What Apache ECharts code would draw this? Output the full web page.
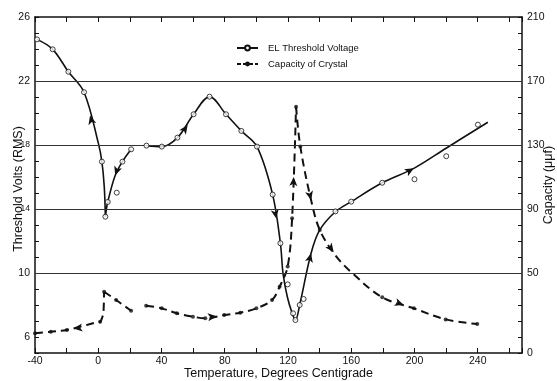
<!DOCTYPE html>
<html><head><meta charset="utf-8">
<script src="https://cdn.jsdelivr.net/npm/echarts/dist/echarts.min.js"></script>
<style>html,body{margin:0;padding:0;background:#fff}#c{width:557px;height:381px}</style>
</head><body><div id="c"></div>
<script>
// ---- data ----
const xTickLabels = [-40, 0, 40, 80, 120, 160, 200, 240];
const leftTickLabels = [6, 10, 14, 18, 22, 26];
const rightTickLabels = [0, 50, 90, 130, 170, 210];
const gridValues = [10, 14, 18, 22];

// EL threshold voltage (volts RMS) - drawn curve (null = break)
const elCurve = [
  [-38.7, 24.6], [-28.8, 23.98], [-18.9, 22.58], [-9.0, 21.3], [0.1, 18.1], [2.3, 16.96], [3.8, 15.4], [4.5, 13.52],
  null,
  [4.5, 13.52], [6.0, 14.44], [10.7, 16.1], [15.3, 16.96], [20.8, 17.73],
  null,
  [30.5, 17.96], [40.2, 17.9], [50.1, 18.46], [60.3, 19.92], [70.4, 21.02], [80.8, 19.92], [90.5, 18.88],
  [100.4, 17.9], [110.3, 14.9], [115.2, 11.86], [116.9, 9.94], [119.6, 8.5], [122.6, 7.5], [124.7, 7.06],
  [127.4, 8.0], [134.6, 11.23], [140.1, 12.69], [150, 13.83], [160, 14.46], [179.6, 15.64], [199.6, 16.54],
  [220, 17.8], [246.4, 19.42]
];
// EL measured points (open circles)
const elPoints = [
  [-38.7, 24.6], [-28.8, 23.98], [-18.9, 22.58], [-9.0, 21.3], [2.3, 16.96], [4.5, 13.52], [6.0, 14.44],
  [11.7, 15.02], [15.3, 16.96], [20.8, 17.73], [30.5, 17.96], [40.2, 17.9], [50.1, 18.46], [60.3, 19.92],
  [70.4, 21.02], [80.8, 19.92], [90.5, 18.88], [100.4, 17.9], [110.3, 14.9], [115.2, 11.86], [119.8, 9.29],
  [123.2, 7.48], [124.7, 7.06], [127.4, 8.0], [129.9, 8.375], [150, 13.85], [160, 14.46], [179.6, 15.64],
  [200, 15.86], [220.1, 17.3], [240.1, 19.27]
];
// Capacity of crystal (micro-micro-farads) - drawn curve (null = break)
const capCurve = [
  [-40, 12.3], [-30, 13.3], [-19.9, 14.4], [-11.5, 16.4], [-2, 18.9], [1.2, 19.6], [2.6, 22.5], [3.3, 25.5], [3.7, 38.3],
  null,
  [3.7, 38.3], [11.3, 33.1], [20.8, 26.4],
  null,
  [30.3, 29.6], [40.2, 27.9], [49.7, 24.8], [59.9, 22.7], [67.7, 21.7], [79.7, 23.75], [89.8, 25.2], [100, 27.9],
  [109.9, 33.1], [114.7, 41.4], [119.8, 54], [122.6, 84.2], [125.1, 153.9],
  null,
  [125.1, 153.9], [127.8, 129], [134.6, 95.6], [140.1, 76.9], [150, 61], [160.6, 50], [179.6, 34.8],
  [199.6, 27.9], [219.7, 21], [239.7, 18.1]
];
// Capacity measured points (filled dots)
const capDots = [
  [-40, 12.3], [-30, 13.3], [-19.9, 14.4], [1.2, 19.6], [3.7, 38.3], [11.3, 33.1], [20.8, 26.4],
  [30.3, 29.6], [40.2, 27.9], [49.7, 24.8], [59.9, 22.7], [67.7, 21.7], [79.7, 23.75], [89.8, 25.2],
  [100, 27.9], [109.9, 33.1], [114.7, 41.4], [119.8, 54], [122.6, 84.2], [125.1, 153.9], [127.8, 129],
  [140.1, 76.9], [179.6, 34.8], [199.6, 27.9], [219.7, 21], [239.7, 18.1]
];
// direction arrows: [x, y, heading in degrees counter-clockwise from up]
const elArrows = [[-5.2, 19.85, 15], [10.7, 16.1, 161], [56.5, 19.25, -34], [112.6, 13.4, 190], [134.6, 11.23, -14], [199.6, 16.54, -61]];
const capArrows = [[-15.7, 15.3, 97], [75, 23.0, -83], [123.6, 110, -2], [134.6, 95.6, 193], [148.9, 63, 216], [193.2, 30, 250]];

// ---- chart ----
const BRK = ['-', '-'];
const fix = arr => arr.map(p => p === null ? BRK : p);
const FONT = 'Liberation Sans';
const chart = echarts.init(document.getElementById('c'), null, {renderer: 'canvas'});
const axisLineStyle = {color: '#111', width: 1.5};
const tickStyle = {color: '#111', width: 1};
chart.setOption({
  animation: false,
  backgroundColor: '#fff',
  textStyle: {fontFamily: FONT, color: '#111'},
  grid: {left: 35, right: 35, top: 17, bottom: 28, containLabel: false, outerBoundsMode: 'none'},
  legend: {
    data: [
      {name: 'EL Threshold Voltage'},
      {name: 'Capacity of Crystal', lineStyle: {type: [4, 2]}}
    ],
    orient: 'vertical', left: 231, top: 38, itemWidth: 21, itemHeight: 6, itemGap: 6,
    textStyle: {fontFamily: FONT, fontSize: 9.5, color: '#111', padding: [0, 0, 0, 5]},
    selectedMode: false
  },
  xAxis: [
    {
      type: 'value', min: -40, max: 268, interval: 20, position: 'bottom',
      name: 'Temperature, Degrees Centigrade', nameLocation: 'middle', nameGap: 14, nameMoveOverlap: false,
      nameTextStyle: {fontFamily: FONT, fontSize: 12.5, color: '#111'},
      axisLine: {show: true, onZero: false, lineStyle: axisLineStyle},
      axisTick: {show: true, inside: true, length: 5, lineStyle: tickStyle},
      axisLabel: {margin: 3, fontSize: 10.5, color: '#111', fontFamily: FONT,
        formatter: v => xTickLabels.includes(v) ? String(v) : ''},
      splitLine: {show: false}
    },
    {
      type: 'value', min: -40, max: 268, interval: 20, position: 'top',
      axisLine: {show: true, onZero: false, lineStyle: axisLineStyle},
      axisTick: {show: true, inside: true, length: 5, lineStyle: tickStyle},
      axisLabel: {show: false}, splitLine: {show: false}
    }
  ],
  yAxis: [
    {
      type: 'value', min: 5, max: 26, interval: 1, position: 'left',
      name: 'Threshold Volts (RMS)', nameLocation: 'middle', nameGap: 10, nameRotate: 90, nameMoveOverlap: false,
      nameTextStyle: {fontFamily: FONT, fontSize: 12.5, color: '#111', padding: [0, 8, 0, 0]},
      axisLine: {show: true, onZero: false, lineStyle: axisLineStyle},
      axisTick: {show: true, inside: true, length: 4, lineStyle: tickStyle},
      axisLabel: {margin: 5, fontSize: 10.5, color: '#111', fontFamily: FONT,
        rich: {s: {fontSize: 8.5, fontFamily: FONT, color: '#111'}},
        formatter: v => !leftTickLabels.includes(v) ? '' : ((v === 14 || v === 18) ? '{s|' + v + '}' : String(v))},
      splitLine: {show: false}
    },
    {
      type: 'value', min: 0, max: 210, interval: 10, position: 'right',
      name: 'Capacity (μμf)', nameLocation: 'middle', nameGap: 20, nameRotate: 90, nameMoveOverlap: false,
      nameTextStyle: {fontFamily: FONT, fontSize: 12.5, color: '#111'},
      axisLine: {show: true, onZero: false, lineStyle: axisLineStyle},
      axisTick: {show: true, inside: true, length: 4, lineStyle: tickStyle},
      axisLabel: {margin: 5, fontSize: 10.5, color: '#111', fontFamily: FONT,
        formatter: v => rightTickLabels.includes(v) ? String(v) : ''},
      splitLine: {show: false}
    }
  ],
  series: [
    {
      name: 'EL Threshold Voltage', type: 'line', xAxisIndex: 0, yAxisIndex: 0,
      data: fix(elCurve), smooth: 0.35, connectNulls: false,
      symbol: 'emptyCircle', symbolSize: 5, showSymbol: false,
      lineStyle: {color: '#111', width: 1.6},
      itemStyle: {color: '#111', borderColor: '#111', borderWidth: 1},
      markLine: {
        silent: true, symbol: ['none', 'none'], label: {show: false},
        lineStyle: {color: '#333', width: 1, type: 'solid'},
        data: gridValues.map(v => ({yAxis: v}))
      },
      markPoint: {
        silent: true, symbol: 'arrow', symbolSize: [6, 9], label: {show: false},
        itemStyle: {color: '#111'},
        data: elArrows.map(a => ({coord: [a[0], a[1]], symbolRotate: a[2]}))
      },
      z: 3
    },
    {
      name: 'elPts', type: 'scatter', xAxisIndex: 0, yAxisIndex: 0,
      data: elPoints, symbol: 'circle', symbolSize: 5,
      itemStyle: {color: '#fff', borderColor: '#111', borderWidth: 1}, z: 5
    },
    {
      name: 'Capacity of Crystal', type: 'line', xAxisIndex: 0, yAxisIndex: 1,
      data: fix(capCurve), smooth: 0.35, connectNulls: false,
      symbol: 'circle', symbolSize: 4, showSymbol: false,
      lineStyle: {color: '#111', width: 2, type: [8, 5]},
      itemStyle: {color: '#111'},
      markPoint: {
        silent: true, symbol: 'arrow', symbolSize: [6, 9], label: {show: false},
        itemStyle: {color: '#111'},
        data: capArrows.map(a => ({coord: [a[0], a[1]], symbolRotate: a[2]}))
      },
      z: 3
    },
    {
      name: 'capPts', type: 'scatter', xAxisIndex: 0, yAxisIndex: 1,
      data: capDots, symbol: 'circle', symbolSize: 4,
      itemStyle: {color: '#111'}, z: 4
    }
  ]
});
</script></body></html>
